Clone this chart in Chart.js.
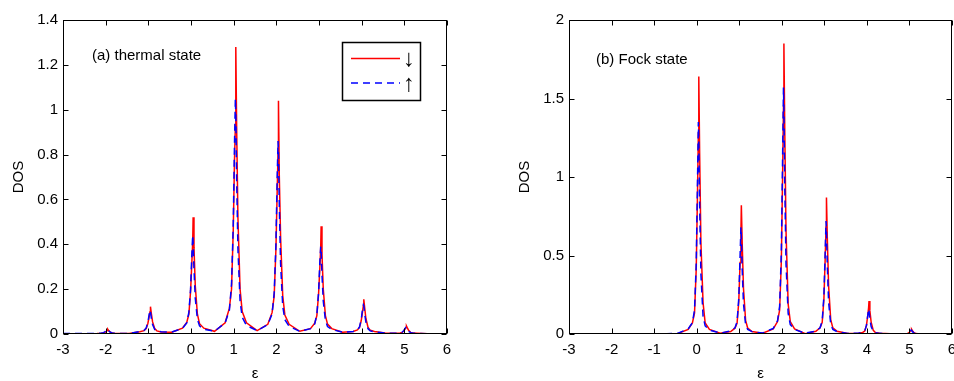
<!DOCTYPE html>
<html>
<head>
<meta charset="utf-8">
<script src="https://cdn.jsdelivr.net/npm/chart.js@4.4.1/dist/chart.umd.min.js"></script>
<style>
  body { margin: 0; background: #fff; overflow: hidden; }
  #wrap { position: relative; width: 954px; height: 381px; }
  .panel { position: absolute; top: 0; }
</style>
</head>
<body>
<div id="wrap">
  <div class="panel" style="left:0"><canvas id="chart-a" width="477" height="381"></canvas></div>
  <div class="panel" style="left:477px"><canvas id="chart-b" width="490" height="381"></canvas></div>
</div>
<script>
// energy grid (epsilon), shared by all curves
const EPS = [
  -3.0, -2.45,
  -2.2, -2.1, -2.05, -2.01, -1.98, -1.96, -1.95, -1.93, -1.9, -1.85, -1.8, -1.7, -1.45,
  -1.2, -1.1, -1.05, -1.01, -0.98, -0.96, -0.95, -0.93, -0.9, -0.85, -0.8, -0.7, -0.45,
  -0.2, -0.1, -0.05, -0.01, 0.02, 0.04, 0.05, 0.07, 0.1, 0.15, 0.2, 0.3, 0.55,
  0.8, 0.9, 0.95, 0.99, 1.02, 1.04, 1.05, 1.07, 1.1, 1.15, 1.2, 1.3, 1.55,
  1.8, 1.9, 1.95, 1.99, 2.02, 2.04, 2.05, 2.07, 2.1, 2.15, 2.2, 2.3, 2.55,
  2.8, 2.9, 2.95, 2.99, 3.02, 3.04, 3.05, 3.07, 3.1, 3.15, 3.2, 3.3, 3.55,
  3.8, 3.9, 3.95, 3.99, 4.02, 4.04, 4.05, 4.07, 4.1, 4.15, 4.2, 4.3, 4.55,
  4.8, 4.9, 4.95, 4.99, 5.02, 5.04, 5.05, 5.07, 5.1, 5.15, 5.2, 5.3, 5.55,
  6.0
];

// (a) thermal state
const A_DOWN = [
  0.0, 0.001,
  0.002, 0.003, 0.004, 0.008, 0.013, 0.016, 0.021, 0.015, 0.009, 0.004, 0.003, 0.002, 0.002,
  0.01, 0.015, 0.024, 0.048, 0.078, 0.099, 0.122, 0.092, 0.054, 0.024, 0.014, 0.009, 0.008,
  0.026, 0.052, 0.088, 0.19, 0.32, 0.41, 0.52, 0.385, 0.215, 0.088, 0.046, 0.026, 0.012,
  0.05, 0.115, 0.2, 0.46, 0.78, 0.93, 1.28, 0.92, 0.52, 0.2, 0.1, 0.05, 0.015,
  0.043, 0.095, 0.17, 0.375, 0.635, 0.81, 1.04, 0.7, 0.43, 0.17, 0.085, 0.043, 0.012,
  0.024, 0.048, 0.082, 0.178, 0.298, 0.384, 0.48, 0.355, 0.2, 0.082, 0.044, 0.024, 0.008,
  0.011, 0.018, 0.029, 0.06, 0.099, 0.127, 0.155, 0.118, 0.068, 0.029, 0.017, 0.011, 0.004,
  0.003, 0.005, 0.007, 0.014, 0.023, 0.029, 0.035, 0.027, 0.016, 0.007, 0.004, 0.003, 0.001,
  0.0
];
const A_UP = [
  0.002, 0.002,
  0.003, 0.004, 0.006, 0.011, 0.018, 0.022, 0.02, 0.015, 0.009, 0.005, 0.003, 0.002, 0.002,
  0.011, 0.016, 0.027, 0.052, 0.087, 0.107, 0.099, 0.072, 0.042, 0.02, 0.013, 0.01, 0.009,
  0.025, 0.049, 0.096, 0.2, 0.354, 0.44, 0.406, 0.29, 0.16, 0.066, 0.036, 0.021, 0.012,
  0.049, 0.107, 0.222, 0.485, 0.852, 1.05, 0.978, 0.695, 0.38, 0.148, 0.075, 0.038, 0.015,
  0.042, 0.089, 0.184, 0.399, 0.7, 0.86, 0.803, 0.571, 0.313, 0.124, 0.064, 0.034, 0.012,
  0.024, 0.045, 0.088, 0.186, 0.322, 0.39, 0.369, 0.264, 0.147, 0.061, 0.033, 0.02, 0.008,
  0.011, 0.018, 0.032, 0.065, 0.11, 0.13, 0.126, 0.09, 0.052, 0.023, 0.014, 0.009, 0.004,
  0.003, 0.005, 0.008, 0.016, 0.026, 0.03, 0.03, 0.021, 0.012, 0.006, 0.004, 0.003, 0.001,
  0.001
];

// (b) Fock state
const B_DOWN = [
  0.0, 0.0,
  0, 0, 0, 0, 0, 0, 0, 0, 0, 0, 0, 0, 0,
  0, 0, 0, 0, 0, 0, 0, 0, 0, 0, 0, 0.001, 0.002,
  0.029, 0.07, 0.135, 0.415, 0.906, 1.28, 1.64, 1.15, 0.58, 0.2, 0.07, 0.029, 0.005,
  0.016, 0.037, 0.07, 0.209, 0.455, 0.644, 0.82, 0.578, 0.291, 0.086, 0.037, 0.016, 0.005,
  0.033, 0.079, 0.153, 0.468, 1.02, 1.45, 1.85, 1.3, 0.653, 0.19, 0.079, 0.033, 0.002,
  0.017, 0.039, 0.074, 0.222, 0.483, 0.683, 0.87, 0.613, 0.309, 0.091, 0.039, 0.017, 0.003,
  0.005, 0.01, 0.019, 0.055, 0.118, 0.166, 0.21, 0.149, 0.076, 0.023, 0.01, 0.005, 0.001,
  0.0, 0.001, 0.002, 0.008, 0.017, 0.023, 0.03, 0.021, 0.011, 0.003, 0.001, 0.0, 0.0,
  0.0
];
const B_UP = [
  0.001, 0.001,
  0.001, 0.001, 0.001, 0.001, 0.001, 0.001, 0.001, 0.001, 0.001, 0.001, 0.001, 0.001, 0.001,
  0.001, 0.001, 0.001, 0.001, 0.001, 0.001, 0.001, 0.001, 0.001, 0.001, 0.001, 0.002, 0.004,
  0.032, 0.072, 0.153, 0.45, 0.977, 1.35, 1.22, 0.815, 0.383, 0.113, 0.052, 0.025, 0.006,
  0.019, 0.039, 0.08, 0.229, 0.495, 0.68, 0.617, 0.413, 0.195, 0.059, 0.029, 0.015, 0.006,
  0.036, 0.084, 0.178, 0.523, 1.135, 1.57, 1.418, 0.947, 0.445, 0.131, 0.06, 0.029, 0.005,
  0.018, 0.04, 0.083, 0.242, 0.522, 0.72, 0.652, 0.436, 0.206, 0.062, 0.029, 0.015, 0.004,
  0.005, 0.01, 0.02, 0.055, 0.117, 0.16, 0.146, 0.098, 0.047, 0.015, 0.008, 0.004, 0.001,
  0.001, 0.001, 0.003, 0.008, 0.018, 0.025, 0.023, 0.015, 0.007, 0.002, 0.001, 0.0, 0.0,
  0.0
];

const X_TICKS = { min: -3, max: 6, step: 1 };
const A_Y = { max: 1.4, step: 0.2 };
const B_Y = { max: 2, step: 0.5 };

Chart.defaults.font.family = '"Liberation Sans", Arial, sans-serif';
Chart.defaults.font.size = 15;
Chart.defaults.color = '#000';

const toPoints = ys => EPS.map((x, i) => ({ x: x, y: ys[i] }));
const plainNum = v => String(+v.toFixed(2));

// matlab-like frame: box with inward ticks on all sides, text label, legend
const framePlugin = {
  id: 'frame',
  afterDraw(chart, args, opts) {
    const { ctx, chartArea: a, scales: { x, y } } = chart;
    const L = Math.round(a.left) + 0.5, R = Math.round(a.right) - 0.5;
    const T = Math.round(a.top) + 0.5, B = Math.round(a.bottom) - 0.5;
    ctx.save();
    ctx.strokeStyle = '#000';
    ctx.lineWidth = 1;
    ctx.beginPath();
    x.ticks.forEach(t => {
      const px = Math.round(x.getPixelForValue(t.value)) + 0.5;
      ctx.moveTo(px, B); ctx.lineTo(px, B - 5);
      ctx.moveTo(px, T); ctx.lineTo(px, T + 5);
    });
    y.ticks.forEach(t => {
      const py = Math.round(y.getPixelForValue(t.value)) + 0.5;
      ctx.moveTo(L, py); ctx.lineTo(L + 5, py);
      ctx.moveTo(R, py); ctx.lineTo(R - 5, py);
    });
    ctx.stroke();
    ctx.strokeRect(L, T, R - L, B - T);

    ctx.fillStyle = '#000';
    ctx.font = '15px "Liberation Sans", Arial, sans-serif';
    ctx.textBaseline = 'middle';
    ctx.fillText(opts.label, opts.labelX, opts.labelY);

    if (opts.legend) {
      const lg = opts.legend;
      ctx.fillStyle = '#fff';
      ctx.fillRect(lg.x, lg.y, lg.w, lg.h);
      ctx.lineWidth = 1.5;
      ctx.strokeRect(lg.x + 0.5, lg.y + 0.5, lg.w, lg.h);
      chart.data.datasets.slice().reverse().forEach((ds, i) => {
        const yy = lg.y + 16.5 + i * 24.5;
        ctx.strokeStyle = ds.borderColor;
        ctx.lineWidth = 1.5;
        ctx.setLineDash(ds.borderDash || []);
        ctx.beginPath();
        ctx.moveTo(lg.x + 9, yy); ctx.lineTo(lg.x + 58, yy);
        ctx.stroke();
        ctx.setLineDash([]);
        ctx.fillStyle = '#000';
        ctx.font = '24px "Liberation Sans", Arial, sans-serif';
        ctx.textAlign = 'center';
        ctx.fillText(ds.label, lg.x + 67, yy + 1);
      });
    }
    ctx.restore();
  }
};

function makeChart(id, down, up, yRange, yAxisWidth, padRight, yTitlePad, frame) {
  return new Chart(document.getElementById(id), {
    type: 'line',
    data: {
      datasets: [
        {
          label: '↑',
          data: toPoints(up),
          borderColor: '#0000ff',
          borderWidth: 1.5,
          borderDash: [7, 5],
          pointRadius: 0,
          order: 1
        },
        {
          label: '↓',
          data: toPoints(down),
          borderColor: '#ff0000',
          borderWidth: 1.5,
          pointRadius: 0,
          order: 2
        }
      ]
    },
    options: {
      responsive: false,
      animation: false,
      layout: { padding: { left: 0, top: 20, right: padRight, bottom: 0 } },
      plugins: {
        legend: { display: false },
        tooltip: { enabled: false },
        frame: frame
      },
      scales: {
        x: {
          type: 'linear',
          min: X_TICKS.min,
          max: X_TICKS.max,
          ticks: { stepSize: X_TICKS.step, padding: 7, maxRotation: 0, callback: plainNum },
          grid: { display: false, drawTicks: false, tickLength: 0 },
          border: { display: false },
          title: { display: true, text: 'ε', font: { size: 15, lineHeight: 1 }, padding: { top: 0, bottom: 0 } },
          afterFit: s => { s.height = 47; }
        },
        y: {
          min: 0,
          max: yRange.max,
          ticks: { stepSize: yRange.step, padding: 5, callback: plainNum },
          grid: { display: false, drawTicks: false, tickLength: 0 },
          border: { display: false },
          title: { display: true, text: 'DOS', padding: { top: yTitlePad, bottom: 0 } },
          afterFit: s => { s.width = yAxisWidth; }
        }
      }
    },
    plugins: [framePlugin]
  });
}

makeChart('chart-a', A_DOWN, A_UP, A_Y, 63, 30, 10, {
  label: '(a) thermal state', labelX: 92, labelY: 56,
  legend: { x: 342, y: 42, w: 78, h: 58 }
});
makeChart('chart-b', B_DOWN, B_UP, B_Y, 92, 15, 39, {
  label: '(b) Fock state', labelX: 119, labelY: 60
});
</script>
</body>
</html>
